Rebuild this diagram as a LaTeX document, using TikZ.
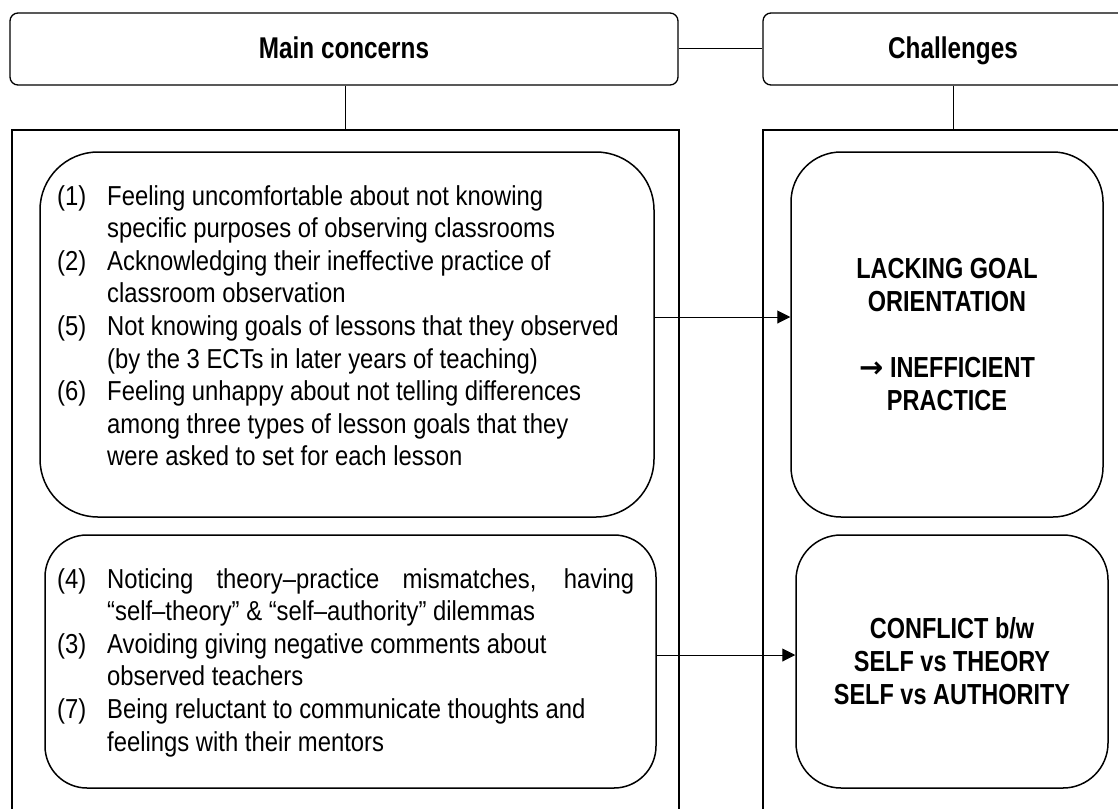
\documentclass[tikz,border=0pt]{standalone}
\usepackage{fontspec}
\setmainfont{Liberation Sans}
\newfontfamily\bodyf{Liberation Sans}[FakeStretch=0.87]
\newfontfamily\boldf{Liberation Sans}[FakeStretch=0.81]
\newfontfamily\symf{DejaVu Sans}
\usetikzlibrary{arrows.meta}
\newcommand{\itm}[1]{\makebox[50pt][l]{#1}}
\newcommand{\cnt}{\hspace*{50pt}}
\begin{document}
\begin{tikzpicture}[x=1pt,y=-1pt,
  hdr/.style={draw, line width=1.3pt, rounded corners=8pt, inner sep=0pt,
    text height=26pt, text depth=6pt,
    font=\boldf\bfseries\fontsize{30}{36}\selectfont},
  frame/.style={draw, line width=1.3pt, inner sep=0pt},
  ibox/.style={draw, line width=1.5pt, inner sep=0pt},
  body/.style={inner sep=0pt, anchor=north west, align=left,
    font=\bodyf\fontsize{27.4}{32.6}\selectfont},
  bold/.style={inner sep=0pt, align=center,
    font=\boldf\bfseries\fontsize{29}{33}\selectfont},
  link/.style={line width=1pt},
  arr/.style={line width=1pt, -{Triangle[length=13pt,width=13pt]}}]
\useasboundingbox (0,0) rectangle (1118,808);
\clip (0,0) rectangle (1118,808);
% headers
\node[hdr, minimum width=668pt, minimum height=72pt] (mh) at (344,49) {Main concerns};
\node[hdr, minimum width=380pt, minimum height=72pt] (ch) at (953,49) {Challenges};
% outer frames
\node[frame, minimum width=667pt, minimum height=700pt] (lo) at (345.5,480) {};
\node[frame, minimum width=380pt, minimum height=700pt] (ro) at (953,480) {};
% inner boxes
\node[ibox, rounded corners=58pt, minimum width=614pt, minimum height=365pt] (lb1) at (347,334.5) {};
\node[ibox, rounded corners=42pt, minimum width=611pt, minimum height=253pt] (lb2) at (350.5,661.5) {};
\node[ibox, rounded corners=50pt, minimum width=312pt, minimum height=365pt] (rb1) at (947,334.5) {};
\node[ibox, rounded corners=45pt, minimum width=312pt, minimum height=253pt] (rb2) at (952,661.5) {};
% texts
\node[body] (t1) at (57,182) {\strut\itm{(1)}Feeling uncomfortable about not knowing\\
\cnt specific purposes of observing classrooms\\
\itm{(2)}Acknowledging their ineffective practice of\\
\cnt classroom observation\\
\itm{(5)}Not knowing goals of lessons that they observed\\
\cnt (by the 3 ECTs in later years of teaching)\\
\itm{(6)}Feeling unhappy about not telling differences\\
\cnt among three types of lesson goals that they\\
\cnt were asked to set for each lesson};
\node[body] (t2) at (57,565) {\strut\itm{(4)}\makebox[527pt][s]{Noticing theory–practice mismatches, having}\\
\cnt “self–theory” \& “self–authority” dilemmas\\
\itm{(3)}Avoiding giving negative comments about\\
\cnt observed teachers\\
\itm{(7)}Being reluctant to communicate thoughts and\\
\cnt feelings with their mentors};
\node[bold] (t3) at (rb1.center) {LACKING GOAL\\ORIENTATION\\ \mbox{}\\{\symf\bfseries →} INEFFICIENT\\PRACTICE};
\node[bold] (t4) at (rb2.center) {CONFLICT b/w\\SELF vs THEORY\\SELF vs AUTHORITY};
% connectors
\draw[link] (mh.east) -- (ch.west);
\draw[link] (mh.south -| lo.north) -- (lo.north);
\draw[link] (ch.south) -- (ro.north);
\path (lb1.east) ++(0,-17.5) coordinate (s1);
\path (lb2.east) ++(0,-6.5) coordinate (s2);
\draw[arr] (s1) -- (s1 -| rb1.west);
\draw[arr] (s2) -- (s2 -| rb2.west);
\end{tikzpicture}
\end{document}
